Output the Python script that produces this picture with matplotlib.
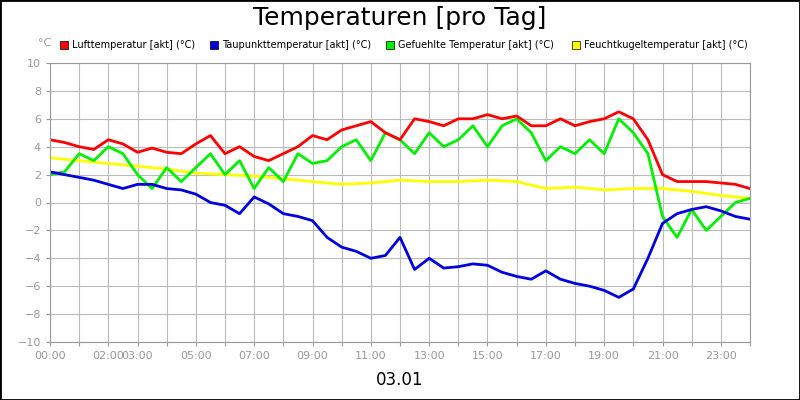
import matplotlib
matplotlib.use("Agg")
import matplotlib.pyplot as plt
from matplotlib.patches import Rectangle

hours_h = [i*0.5 for i in range(49)]
luft = [4.5,4.3,4.0,3.8,4.5,4.2,3.6,3.9,3.6,3.5,4.2,4.8,3.5,4.0,3.3,3.0,3.5,4.0,4.8,4.5,5.2,5.5,5.8,5.0,4.5,6.0,5.8,5.5,6.0,6.0,6.3,6.0,6.2,5.5,5.5,6.0,5.5,5.8,6.0,6.5,6.0,4.5,2.0,1.5,1.5,1.5,1.4,1.3,1.0]
taupunkt = [2.2,2.0,1.8,1.6,1.3,1.0,1.3,1.3,1.0,0.9,0.6,0.0,-0.2,-0.8,0.4,-0.1,-0.8,-1.0,-1.3,-2.5,-3.2,-3.5,-4.0,-3.8,-2.5,-4.8,-4.0,-4.7,-4.6,-4.4,-4.5,-5.0,-5.3,-5.5,-4.9,-5.5,-5.8,-6.0,-6.3,-6.8,-6.2,-4.0,-1.5,-0.8,-0.5,-0.3,-0.6,-1.0,-1.2]
gefuehlt = [2.0,2.2,3.5,3.0,4.0,3.5,2.0,1.0,2.5,1.5,2.5,3.5,2.0,3.0,1.0,2.5,1.5,3.5,2.8,3.0,4.0,4.5,3.0,5.0,4.5,3.5,5.0,4.0,4.5,5.5,4.0,5.5,6.0,5.0,3.0,4.0,3.5,4.5,3.5,6.0,5.0,3.5,-1.0,-2.5,-0.5,-2.0,-1.0,0.0,0.3]
hours_y = list(range(25))
feucht = [3.2,3.0,2.8,2.6,2.4,2.1,2.0,1.9,1.7,1.5,1.3,1.4,1.6,1.5,1.5,1.6,1.5,1.0,1.1,0.9,1.0,1.0,0.8,0.5,0.3]
tick_hours = [0,2,3,5,7,9,11,13,15,17,19,21,23]
tick_labels = ["00:00","02:00","03:00","05:00","07:00","09:00","11:00","13:00","15:00","17:00","19:00","21:00","23:00"]
names = ["Lufttemperatur [akt] (°C)","Taupunkttemperatur [akt] (°C)","Gefuehlte Temperatur [akt] (°C)","Feuchtkugeltemperatur [akt] (°C)"]
colors = ["#ff0000","#0000dd","#00ee00","#ffff00"]

fig = plt.figure(figsize=(8,4), dpi=100)
fig.patches.append(Rectangle((0,0),1,1,transform=fig.transFigure,fill=False,edgecolor="black",lw=2))
ax = fig.add_axes([0.0625,0.145,0.875,0.6975])
ax.set_xlim(0,24); ax.set_ylim(-10,10)
ax.set_xticks(range(25), minor=False)
ax.set_xticklabels([tick_labels[tick_hours.index(h)] if h in tick_hours else "" for h in range(25)])
ax.set_yticks(range(-10,11,2))
ax.tick_params(labelsize=8, labelcolor="#999999", color="#999999", length=3)
ax.grid(True, color="#bbbbbb", lw=0.8)
for s in ax.spines.values(): s.set_color("#999999")
ax.plot(hours_y, feucht, color=colors[3], lw=2)
ax.plot(hours_h, gefuehlt, color=colors[2], lw=2)
ax.plot(hours_h, taupunkt, color=colors[1], lw=2)
ax.plot(hours_h, luft, color=colors[0], lw=2)
fig.text(0.5,0.955,"Temperaturen [pro Tag]",ha="center",va="center",fontsize=18)
fig.text(0.5,0.05,"03.01",ha="center",va="center",fontsize=12)
fig.text(0.048,0.885,"°C",fontsize=8,color="#999999")
xs = [0.075,0.262,0.482,0.715]
for x,n,c in zip(xs,names,colors):
    fig.patches.append(Rectangle((x,0.878),0.01,0.02,transform=fig.transFigure,facecolor=c,edgecolor="black",lw=0.5))
    fig.text(x+0.015,0.888,n,fontsize=7,va="center")
fig.savefig("out.png")
